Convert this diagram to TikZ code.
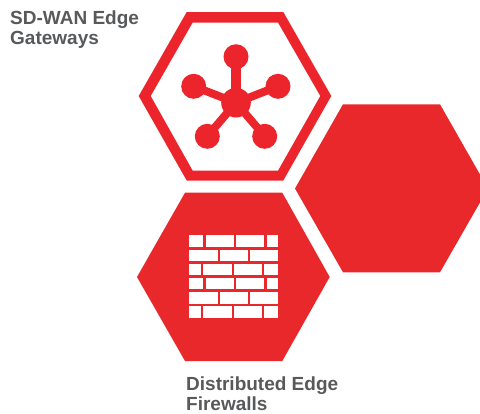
\documentclass[tikz,border=0pt]{standalone}
\usepackage{fontspec}
\setmainfont{Liberation Sans}
\definecolor{hexred}{HTML}{E9282C}
\definecolor{icored}{HTML}{EC242B}
\definecolor{labelgray}{HTML}{58595B}
\tikzset{
  x=1pt,y=-1pt,
  hexfill/.style={fill=hexred,draw=none},
  spoke/.style={draw=icored,line width=8pt},
  hub/.style={fill=icored,draw=none},
  brick/.style={fill=white,draw=none},
  caption/.style={text=labelgray,font=\bfseries\fontsize{19}{20}\selectfont,align=left,inner sep=0pt,anchor=north west}
}
\newcommand{\brickrow}[3]{%
  \foreach \a/\b in {#3}{\fill[brick] ({170+\a/3},{220+#1/3}) rectangle ({170+\b/3},{220+#2/3});}}
\begin{document}
\begin{tikzpicture}
\useasboundingbox (0,0) rectangle (480,413);
% top outlined hexagon
\fill[icored,even odd rule] (186.7,12) -- (283.3,12) -- (331.3,96) -- (283.3,180.5) -- (186.7,180.5) -- (138.7,96) -- cycle
  (192.7,22.5) -- (278,22.5) -- (320.3,96) -- (278,170.7) -- (192.7,170.7) -- (150.7,96) -- cycle;
% hub and spoke icon
\coordinate (c) at (236,102.7);
\coordinate (t) at (236,56.7);
\coordinate (l) at (193.7,86.3);
\coordinate (r) at (278,86.3);
\coordinate (bl) at (207.3,136.3);
\coordinate (br) at (264.7,136.3);
\foreach \p in {l,r,bl,br}{
  \draw[spoke] (c) -- (\p);
  \fill[hub] (\p) circle (12.5);
}
\draw[spoke,line width=10pt] (c) -- (t);
\fill[hub] (t) circle (12.5);
\fill[hub] (c) circle (14.8);
% right hexagon
\fill[hexfill] (343,104.3) -- (440,104.3) -- (488,188.5) -- (440,272.3) -- (343,272.3) -- (295,188.5) -- cycle;
% bottom hexagon
\fill[hexfill] (185,192.7) -- (282.3,192.7) -- (329.7,277) -- (282.3,361) -- (185,361) -- (137,277) -- cycle;
% bricks
\brickrow{46}{80}{58/100,108/192,199/283,291/325}
\brickrow{89}{122}{58/144,150/234,240/325}
\brickrow{131}{165}{58/93,100/185,191/276,283/325}
\brickrow{174}{208}{58/100,108/192,199/283,291/325}
\brickrow{217}{251}{58/144,150/234,240/325}
\brickrow{259}{293}{58/93,100/185,191/276,283/325}
% labels
\node[caption] (gw) at (10,11) {SD-WAN Edge\\Gateways};
\node[caption] (fw) at (186,377) {Distributed Edge\\Firewalls};
\end{tikzpicture}
\end{document}
